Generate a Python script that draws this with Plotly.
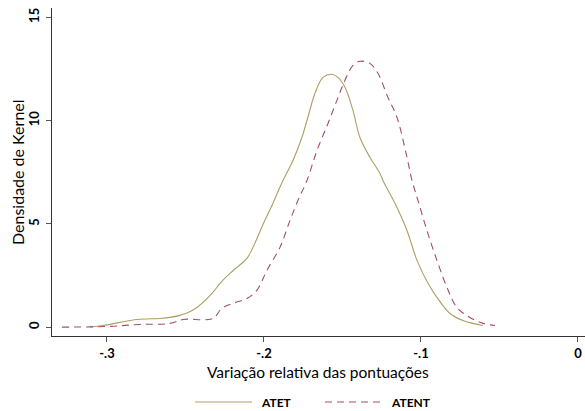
import plotly.graph_objects as go

# ATET kernel density (solid)
atet_x = [-0.3108, -0.3025, -0.2917, -0.2809, -0.2662, -0.2599, -0.2535, -0.2490, -0.2427,
          -0.2331, -0.2280, -0.2217, -0.2172, -0.2108, -0.2070, -0.1994, -0.1943, -0.1879, -0.1815,
          -0.1758, -0.1720, -0.1675, -0.1624, -0.1567, -0.1529, -0.1484, -0.1433, -0.1389, -0.1325,
          -0.1261, -0.1242, -0.1153, -0.1089, -0.1025, -0.0955, -0.0898, -0.0815, -0.0732, -0.0605]
atet_y = [0.01, 0.08, 0.23, 0.37, 0.42, 0.47, 0.57, 0.68, 0.95,
          1.63, 2.12, 2.60, 2.89, 3.33, 3.86, 5.17, 5.99, 7.10, 8.07,
          9.19, 10.16, 11.32, 12.09, 12.24, 12.09, 11.61, 10.49, 9.19, 8.22,
          7.44, 7.10, 5.80, 4.68, 3.23, 2.12, 1.44, 0.66, 0.32, 0.08]

# ATENT kernel density (dashed)
atent_x = [-0.3287, -0.3000, -0.2790, -0.2599, -0.2516, -0.2325, -0.2268, -0.2197, -0.2108, -0.2045,
           -0.1981, -0.1898, -0.1834, -0.1783, -0.1726, -0.1662, -0.1592, -0.1535, -0.1484, -0.1433,
           -0.1389, -0.1325, -0.1274, -0.1210, -0.1153, -0.1089, -0.1057, -0.1019, -0.0962, -0.0898,
           -0.0834, -0.0771, -0.0688, -0.0605, -0.0529]
atent_y = [0.00, 0.03, 0.13, 0.18, 0.37, 0.42, 0.91, 1.15, 1.39, 1.78,
           2.75, 3.86, 5.17, 6.14, 7.10, 8.56, 9.86, 10.98, 11.95, 12.67,
           12.87, 12.77, 12.29, 11.12, 10.16, 8.22, 7.10, 6.14, 4.68, 3.23,
           1.92, 0.95, 0.47, 0.18, 0.08]

x_ticks = [-0.3, -0.2, -0.1, 0]
x_tick_labels = ["-.3", "-.2", "-.1", "0"]
y_ticks = [0, 5, 10, 15]
y_tick_labels = ["0", "5", "10", "15"]

ATET_COLOR = "#ad9f62"
ATENT_COLOR = "#a34d6b"
FONT = "Lato"

fig = go.Figure()
fig.add_trace(go.Scatter(x=atet_x, y=atet_y, mode="lines", name="ATET",
                         line=dict(color=ATET_COLOR, width=1.1), line_shape="spline",
                         showlegend=False))
fig.add_trace(go.Scatter(x=atent_x, y=atent_y, mode="lines", name="ATENT",
                         line=dict(color=ATENT_COLOR, width=1.1, dash="7px,5px"), line_shape="spline",
                         showlegend=False))

W, H = 585, 411
L, R, T, B = 52, 0, 8, 75
pw, ph = W - L - R, H - T - B

def px(x):
    return (x - L) / pw

def py(y):
    return (H - B - y) / ph

# manual legend
fig.add_shape(type="line", xref="paper", yref="paper", x0=px(195), x1=px(252), y0=py(402), y1=py(402),
              line=dict(color=ATET_COLOR, width=1.1))
fig.add_shape(type="line", xref="paper", yref="paper", x0=px(325), x1=px(380), y0=py(402), y1=py(402),
              line=dict(color=ATENT_COLOR, width=1.1, dash="7px,5px"))
fig.add_annotation(xref="paper", yref="paper", x=px(259), y=py(402), text="<b>ATET</b>", showarrow=False,
                   xanchor="left", yanchor="middle", font=dict(family=FONT, size=12, color="black"))
fig.add_annotation(xref="paper", yref="paper", x=px(389), y=py(402), text="<b>ATENT</b>", showarrow=False,
                   xanchor="left", yanchor="middle", font=dict(family=FONT, size=12, color="black"))

# axis titles
fig.add_annotation(xref="paper", yref="paper", x=px(318), y=py(372), text="Variação relativa das pontuações",
                   showarrow=False, xanchor="center", yanchor="middle",
                   font=dict(family=FONT, size=15.5, color="black"))
fig.add_annotation(xref="paper", yref="paper", x=px(17), y=py(172), text="Densidade de Kernel",
                   showarrow=False, xanchor="center", yanchor="middle", textangle=-90,
                   font=dict(family=FONT, size=16, color="black"))

fig.update_layout(
    width=W, height=H,
    margin=dict(l=L, r=R, t=T, b=B),
    paper_bgcolor="white", plot_bgcolor="white",
    font=dict(family=FONT, size=13, color="black"),
    xaxis=dict(range=[-0.335, 0.0045], tickvals=x_ticks, ticktext=x_tick_labels, automargin=False,
               showgrid=False, zeroline=False, showline=True, linecolor="#333333", linewidth=1.3,
               ticks="outside", ticklen=5, tickcolor="#555555", tickwidth=1, ticklabelstandoff=0,
               tickfont=dict(family=FONT, size=13, color="black", weight="bold")),
    yaxis=dict(range=[-0.43, 15.45], tickvals=y_ticks, ticktext=y_tick_labels, automargin=False,
               showgrid=False, zeroline=False, showline=True, linecolor="#333333", linewidth=1.3,
               ticks="outside", ticklen=5, tickcolor="#555555", tickwidth=1, tickangle=-90,
               ticklabelstandoff=2,
               tickfont=dict(family=FONT, size=13, color="black", weight="bold")),
)

fig.write_html("out.html", config={"displayModeBar": False},
               post_script="document.body.style.margin='0px';document.body.style.overflow='hidden';")
